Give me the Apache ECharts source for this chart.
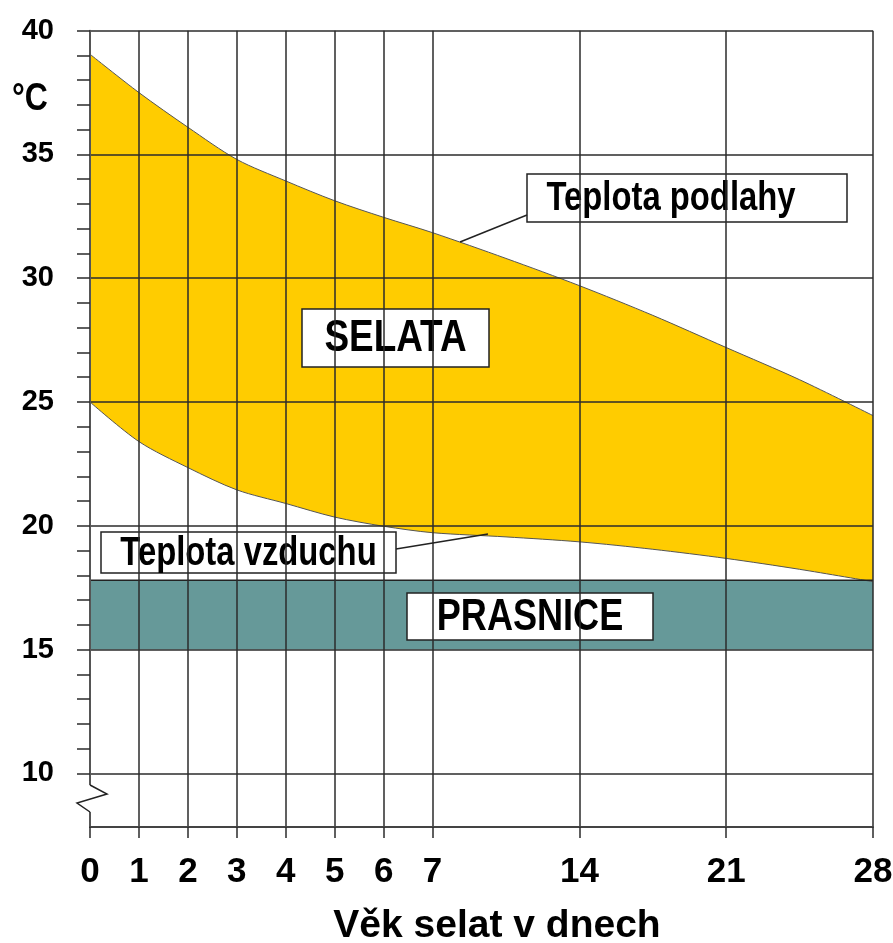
<!DOCTYPE html>
<html>
<head>
<meta charset="utf-8">
<script src="https://cdn.jsdelivr.net/npm/echarts@6/dist/echarts.min.js"></script>
<style>
  html, body { margin: 0; padding: 0; background: #fff; }
  #chart { width: 893px; height: 943px; }
</style>
</head>
<body>
<div id="chart"></div>
<script>
// vek selat (dny) - osa x je po 7. dni zhustena (tyden = 3 dilky)
var days = [0, 1, 2, 3, 4, 5, 6, 7, 10.5, 14, 17.5, 21, 24.5, 28];
// Teplota podlahy
var floorTemp = [39.05, 37.5, 36.1, 34.8, 33.93, 33.13, 32.46, 31.84, 30.8, 29.7, 28.5, 27.2, 25.9, 24.45];
// Teplota vzduchu
var airTemp = [25.0, 23.4, 22.35, 21.45, 20.9, 20.35, 19.98, 19.72, 19.55, 19.35, 19.05, 18.68, 18.24, 17.74];
// PRASNICE pasmo (od - do)
var sowBand = [15, 17.8];
var sowDays = [0, 28];

var dayTicks = [0, 1, 2, 3, 4, 5, 6, 7, 14, 21, 28];
var tempLabels = [10, 15, 20, 25, 30, 35, 40];
var tempTicks = [10, 11, 12, 13, 14, 15, 16, 17, 18, 19, 20, 21, 22, 23, 24, 25,
                 26, 27, 28, 29, 30, 31, 32, 33, 34, 35, 36, 37, 38, 39, 40];

function dayToPos(d) {
    return d <= 7 ? d : 7 + (d - 7) * 3 / 7;
}
function posToDay(p) {
    return p <= 7 ? p : 7 + (p - 7) * 7 / 3;
}

var sans = "'Liberation Sans', Arial, sans-serif";
var gridColor = '#2b2b2b';
var squeeze = 0.82; // puvodni pismo je uzke (Arial Narrow)

var floorData = days.map(function (d, i) { return [dayToPos(d), floorTemp[i]]; });
var airData = days.map(function (d, i) { return [dayToPos(d), airTemp[i]]; });
var sowData = sowDays.map(function (d) { return [dayToPos(d), sowBand[1]]; });

function labelBox(x, y, w, h, text, size, textCx) {
    return {
        type: 'group',
        children: [{
            type: 'rect',
            shape: { x: x, y: y, width: w, height: h },
            style: { fill: '#fff', stroke: '#222', lineWidth: 1.5 },
            z: 20
        }, {
            type: 'text',
            x: textCx || (x + w / 2),
            y: y + h / 2 + 1,
            scaleX: squeeze,
            style: {
                text: text,
                fill: '#000',
                font: 'bold ' + size + 'px ' + sans,
                align: 'center',
                verticalAlign: 'middle'
            },
            z: 21
        }]
    };
}

var myChart = echarts.init(document.getElementById('chart'));

var option = {
    backgroundColor: '#fff',
    animation: false,
    grid: {
        left: 90,
        right: 20,
        top: 30.7,
        bottom: 116,
        outerBoundsMode: 'none'
    },
    xAxis: {
        type: 'value',
        min: 0,
        max: 16,
        zlevel: 1,
        axisLine: { show: true, onZero: false, lineStyle: { color: '#444', width: 2 } },
        axisTick: {
            show: true,
            length: 11,
            customValues: dayTicks.map(dayToPos),
            lineStyle: { color: gridColor, width: 1.5 }
        },
        axisLabel: {
            customValues: dayTicks.map(dayToPos),
            formatter: function (v) { return String(Math.round(posToDay(v))); },
            margin: 28,
            fontFamily: sans,
            fontWeight: 'bold',
            fontSize: 35,
            color: '#000'
        },
        splitLine: { show: true, lineStyle: { color: gridColor, width: 1.5 } },
        name: 'Věk selat v dnech',
        nameLocation: 'middle',
        nameGap: 80,
        nameTextStyle: {
            fontFamily: sans,
            fontWeight: 'bold',
            fontSize: 39,
            color: '#000',
            padding: [0, 0, 0, 31]
        }
    },
    yAxis: [{
        type: 'value',
        position: 'left',
        min: 7.83,
        max: 40,
        zlevel: 1,
        axisLine: { show: true, lineStyle: { color: '#555', width: 2 } },
        axisTick: {
            show: true,
            length: 13,
            customValues: tempTicks,
            lineStyle: { color: gridColor, width: 1.5 }
        },
        axisLabel: {
            customValues: tempLabels,
            margin: 36,
            fontFamily: sans,
            fontWeight: 'bold',
            fontSize: 29,
            color: '#000'
        },
        splitLine: { show: false }
    }, {
        type: 'value',
        position: 'left',
        min: 7.83,
        max: 40,
        zlevel: 1,
        axisLine: { show: false },
        axisTick: { show: false, customValues: tempLabels },
        axisLabel: { show: false, customValues: tempLabels },
        splitLine: { show: true, lineStyle: { color: gridColor, width: 1.5 } }
    }],
    series: [{
        // zluta plocha pod teplotou podlahy
        name: 'Teplota podlahy',
        type: 'line',
        data: floorData,
        smooth: 0.3,
        symbol: 'none',
        lineStyle: { color: '#555', width: 1 },
        areaStyle: { color: '#ffcc00', opacity: 1, origin: 'start' }
    }, {
        // pod teplotou vzduchu je bila -> zluty pas mezi krivkami
        name: 'Teplota vzduchu',
        type: 'line',
        data: airData,
        smooth: 0.3,
        symbol: 'none',
        lineStyle: { color: '#555', width: 1 },
        areaStyle: { color: '#fff', opacity: 1, origin: 'start' }
    }, {
        name: 'PRASNICE',
        type: 'line',
        data: sowData,
        symbol: 'none',
        lineStyle: { color: '#222', width: 1.5 },
        areaStyle: { color: '#669999', opacity: 1, origin: sowBand[0] }
    }],
    graphic: [
        {
            type: 'text',
            x: 12,
            y: 80,
            scaleX: squeeze,
            zlevel: 2,
            style: { text: '°C', fill: '#000', font: 'bold 39px ' + sans }
        },
        // zlom osy
        {
            type: 'line',
            zlevel: 2,
            shape: { x1: 90, y1: 785, x2: 90, y2: 812 },
            style: { stroke: '#fff', lineWidth: 4 }
        },
        {
            type: 'polyline',
            zlevel: 2,
            z: 5,
            shape: { points: [[90, 785], [107, 794], [77, 803], [90, 812]] },
            style: { stroke: '#222', lineWidth: 1.5, fill: null }
        },
        // odkazove cary
        {
            type: 'line',
            zlevel: 2,
            shape: { x1: 527, y1: 215, x2: 460, y2: 242 },
            style: { stroke: '#222', lineWidth: 1.5 }
        },
        {
            type: 'line',
            zlevel: 2,
            shape: { x1: 396, y1: 549, x2: 488, y2: 534 },
            style: { stroke: '#222', lineWidth: 1.5 }
        },
        {
            type: 'group',
            zlevel: 2,
            children: [
                labelBox(527, 174, 320, 48, 'Teplota podlahy', 40, 671),
                labelBox(302, 309, 187, 58, 'SELATA', 45),
                labelBox(407, 593, 246, 47, 'PRASNICE', 44),
                labelBox(101, 532, 295, 41, 'Teplota vzduchu', 40)
            ]
        }
    ]
};

myChart.setOption(option);
window.addEventListener('resize', function () {
    myChart.resize();
});
</script>
</body>
</html>
